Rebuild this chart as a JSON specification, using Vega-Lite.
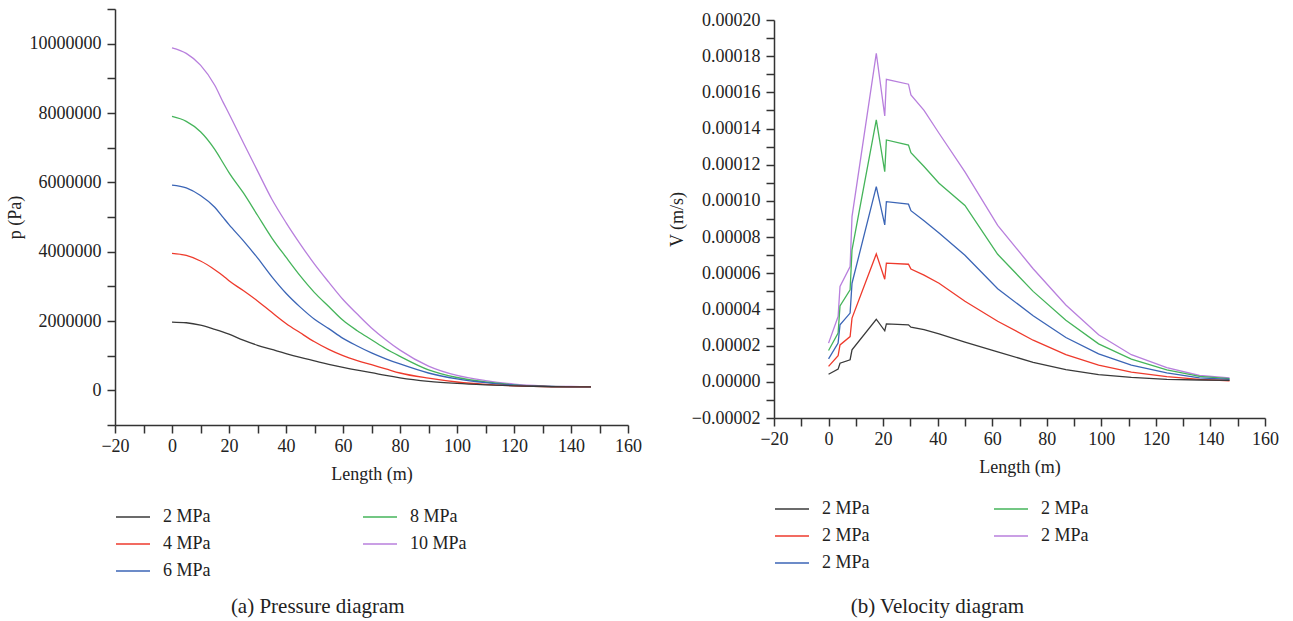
{
  "$schema": "https://vega.github.io/schema/vega-lite/v6.json",
  "background": "white",
  "padding": {"left": 6, "top": 8, "right": 5, "bottom": 5},
  "config": {
    "font": "Liberation Serif",
    "view": {"stroke": null},
    "axis": {
      "labelFont": "Liberation Serif", "titleFont": "Liberation Serif",
      "labelFontSize": 18, "titleFontSize": 18, "titleFontWeight": "normal",
      "labelColor": "#222222", "titleColor": "#222222",
      "domainColor": "#333333", "tickColor": "#333333",
      "domainWidth": 1.5, "tickWidth": 1.5, "tickSize": 8,
      "grid": false, "labelOverlap": false, "labelFlush": false
    },
    "legend": {
      "orient": "bottom", "columns": 2, "symbolType": "stroke",
      "symbolSize": 1156, "symbolStrokeWidth": 1.6,
      "labelFont": "Liberation Serif", "labelFontSize": 18, "labelColor": "#222222",
      "labelOffset": 12, "rowPadding": -7
    },
    "title": {"font": "Liberation Serif", "fontSize": 21, "fontWeight": "normal", "color": "#222222"}
  },
  "datasets": {
    "pressure": [
      {"length": 0, "p": 9880000, "series": "10 MPa"}, {"length": 5, "p": 9720000, "series": "10 MPa"}, {"length": 10, "p": 9380000, "series": "10 MPa"}, {"length": 15, "p": 8800000, "series": "10 MPa"}, {"length": 18, "p": 8300000, "series": "10 MPa"}, {"length": 20, "p": 7980000, "series": "10 MPa"}, {"length": 25, "p": 7150000, "series": "10 MPa"}, {"length": 30, "p": 6330000, "series": "10 MPa"}, {"length": 35, "p": 5520000, "series": "10 MPa"}, {"length": 40, "p": 4840000, "series": "10 MPa"}, {"length": 45, "p": 4220000, "series": "10 MPa"}, {"length": 50, "p": 3640000, "series": "10 MPa"}, {"length": 55, "p": 3120000, "series": "10 MPa"}, {"length": 60, "p": 2620000, "series": "10 MPa"}, {"length": 65, "p": 2200000, "series": "10 MPa"}, {"length": 70, "p": 1800000, "series": "10 MPa"}, {"length": 75, "p": 1460000, "series": "10 MPa"}, {"length": 80, "p": 1160000, "series": "10 MPa"}, {"length": 90, "p": 700000, "series": "10 MPa"}, {"length": 100, "p": 430000, "series": "10 MPa"}, {"length": 110, "p": 280000, "series": "10 MPa"}, {"length": 120, "p": 180000, "series": "10 MPa"}, {"length": 130, "p": 130000, "series": "10 MPa"}, {"length": 140, "p": 110000, "series": "10 MPa"}, {"length": 147, "p": 100000, "series": "10 MPa"},
      {"length": 0, "p": 7900000, "series": "8 MPa"}, {"length": 5, "p": 7760000, "series": "8 MPa"}, {"length": 10, "p": 7460000, "series": "8 MPa"}, {"length": 15, "p": 6950000, "series": "8 MPa"}, {"length": 18, "p": 6550000, "series": "8 MPa"}, {"length": 20, "p": 6280000, "series": "8 MPa"}, {"length": 25, "p": 5700000, "series": "8 MPa"}, {"length": 30, "p": 5050000, "series": "8 MPa"}, {"length": 35, "p": 4400000, "series": "8 MPa"}, {"length": 40, "p": 3840000, "series": "8 MPa"}, {"length": 45, "p": 3300000, "series": "8 MPa"}, {"length": 50, "p": 2820000, "series": "8 MPa"}, {"length": 55, "p": 2420000, "series": "8 MPa"}, {"length": 60, "p": 2020000, "series": "8 MPa"}, {"length": 65, "p": 1720000, "series": "8 MPa"}, {"length": 70, "p": 1460000, "series": "8 MPa"}, {"length": 75, "p": 1200000, "series": "8 MPa"}, {"length": 80, "p": 980000, "series": "8 MPa"}, {"length": 90, "p": 590000, "series": "8 MPa"}, {"length": 100, "p": 370000, "series": "8 MPa"}, {"length": 110, "p": 240000, "series": "8 MPa"}, {"length": 120, "p": 160000, "series": "8 MPa"}, {"length": 130, "p": 120000, "series": "8 MPa"}, {"length": 140, "p": 105000, "series": "8 MPa"}, {"length": 147, "p": 100000, "series": "8 MPa"},
      {"length": 0, "p": 5920000, "series": "6 MPa"}, {"length": 5, "p": 5840000, "series": "6 MPa"}, {"length": 10, "p": 5620000, "series": "6 MPa"}, {"length": 15, "p": 5280000, "series": "6 MPa"}, {"length": 18, "p": 4980000, "series": "6 MPa"}, {"length": 20, "p": 4780000, "series": "6 MPa"}, {"length": 25, "p": 4320000, "series": "6 MPa"}, {"length": 30, "p": 3820000, "series": "6 MPa"}, {"length": 35, "p": 3280000, "series": "6 MPa"}, {"length": 40, "p": 2800000, "series": "6 MPa"}, {"length": 45, "p": 2400000, "series": "6 MPa"}, {"length": 50, "p": 2050000, "series": "6 MPa"}, {"length": 55, "p": 1780000, "series": "6 MPa"}, {"length": 60, "p": 1500000, "series": "6 MPa"}, {"length": 65, "p": 1280000, "series": "6 MPa"}, {"length": 70, "p": 1080000, "series": "6 MPa"}, {"length": 75, "p": 910000, "series": "6 MPa"}, {"length": 80, "p": 760000, "series": "6 MPa"}, {"length": 90, "p": 500000, "series": "6 MPa"}, {"length": 100, "p": 330000, "series": "6 MPa"}, {"length": 110, "p": 220000, "series": "6 MPa"}, {"length": 120, "p": 150000, "series": "6 MPa"}, {"length": 130, "p": 120000, "series": "6 MPa"}, {"length": 140, "p": 100000, "series": "6 MPa"}, {"length": 147, "p": 100000, "series": "6 MPa"},
      {"length": 0, "p": 3950000, "series": "4 MPa"}, {"length": 5, "p": 3890000, "series": "4 MPa"}, {"length": 10, "p": 3730000, "series": "4 MPa"}, {"length": 15, "p": 3480000, "series": "4 MPa"}, {"length": 18, "p": 3300000, "series": "4 MPa"}, {"length": 20, "p": 3160000, "series": "4 MPa"}, {"length": 25, "p": 2880000, "series": "4 MPa"}, {"length": 30, "p": 2580000, "series": "4 MPa"}, {"length": 35, "p": 2250000, "series": "4 MPa"}, {"length": 40, "p": 1930000, "series": "4 MPa"}, {"length": 45, "p": 1660000, "series": "4 MPa"}, {"length": 50, "p": 1400000, "series": "4 MPa"}, {"length": 55, "p": 1180000, "series": "4 MPa"}, {"length": 60, "p": 1000000, "series": "4 MPa"}, {"length": 65, "p": 860000, "series": "4 MPa"}, {"length": 70, "p": 740000, "series": "4 MPa"}, {"length": 75, "p": 620000, "series": "4 MPa"}, {"length": 80, "p": 500000, "series": "4 MPa"}, {"length": 90, "p": 350000, "series": "4 MPa"}, {"length": 100, "p": 240000, "series": "4 MPa"}, {"length": 110, "p": 170000, "series": "4 MPa"}, {"length": 120, "p": 130000, "series": "4 MPa"}, {"length": 130, "p": 110000, "series": "4 MPa"}, {"length": 140, "p": 100000, "series": "4 MPa"}, {"length": 147, "p": 100000, "series": "4 MPa"},
      {"length": 0, "p": 1970000, "series": "2 MPa"}, {"length": 5, "p": 1950000, "series": "2 MPa"}, {"length": 10, "p": 1880000, "series": "2 MPa"}, {"length": 15, "p": 1760000, "series": "2 MPa"}, {"length": 18, "p": 1680000, "series": "2 MPa"}, {"length": 20, "p": 1620000, "series": "2 MPa"}, {"length": 25, "p": 1450000, "series": "2 MPa"}, {"length": 30, "p": 1300000, "series": "2 MPa"}, {"length": 35, "p": 1180000, "series": "2 MPa"}, {"length": 40, "p": 1060000, "series": "2 MPa"}, {"length": 45, "p": 950000, "series": "2 MPa"}, {"length": 50, "p": 850000, "series": "2 MPa"}, {"length": 55, "p": 750000, "series": "2 MPa"}, {"length": 60, "p": 660000, "series": "2 MPa"}, {"length": 65, "p": 580000, "series": "2 MPa"}, {"length": 70, "p": 510000, "series": "2 MPa"}, {"length": 75, "p": 430000, "series": "2 MPa"}, {"length": 80, "p": 360000, "series": "2 MPa"}, {"length": 90, "p": 260000, "series": "2 MPa"}, {"length": 100, "p": 200000, "series": "2 MPa"}, {"length": 110, "p": 160000, "series": "2 MPa"}, {"length": 120, "p": 130000, "series": "2 MPa"}, {"length": 130, "p": 110000, "series": "2 MPa"}, {"length": 140, "p": 100000, "series": "2 MPa"}, {"length": 147, "p": 100000, "series": "2 MPa"}
    ],
    "velocity": [
      {"length": 0, "v": 0.0000214, "series": "10 MPa"}, {"length": 3.5, "v": 0.0000361, "series": "10 MPa"}, {"length": 4.2, "v": 0.0000527, "series": "10 MPa"}, {"length": 7.9, "v": 0.0000637, "series": "10 MPa"}, {"length": 8.6, "v": 0.0000913, "series": "10 MPa"}, {"length": 17.5, "v": 0.0001816, "series": "10 MPa"}, {"length": 20.6, "v": 0.000147, "series": "10 MPa"}, {"length": 21.2, "v": 0.0001672, "series": "10 MPa"}, {"length": 29.3, "v": 0.0001645, "series": "10 MPa"}, {"length": 30.2, "v": 0.0001586, "series": "10 MPa"}, {"length": 35, "v": 0.00015, "series": "10 MPa"}, {"length": 40.5, "v": 0.0001374, "series": "10 MPa"}, {"length": 50, "v": 0.000116, "series": "10 MPa"}, {"length": 62, "v": 0.0000865, "series": "10 MPa"}, {"length": 75, "v": 0.0000625, "series": "10 MPa"}, {"length": 87, "v": 0.0000425, "series": "10 MPa"}, {"length": 99, "v": 0.000026, "series": "10 MPa"}, {"length": 111, "v": 0.000015, "series": "10 MPa"}, {"length": 124, "v": 0.0000078, "series": "10 MPa"}, {"length": 136, "v": 0.0000035, "series": "10 MPa"}, {"length": 147, "v": 0.0000022, "series": "10 MPa"},
      {"length": 0, "v": 0.0000173, "series": "8 MPa"}, {"length": 3.5, "v": 0.0000269, "series": "8 MPa"}, {"length": 4.2, "v": 0.000042, "series": "8 MPa"}, {"length": 7.9, "v": 0.0000508, "series": "8 MPa"}, {"length": 8.6, "v": 0.0000729, "series": "8 MPa"}, {"length": 17.5, "v": 0.0001448, "series": "8 MPa"}, {"length": 20.6, "v": 0.0001162, "series": "8 MPa"}, {"length": 21.2, "v": 0.0001337, "series": "8 MPa"}, {"length": 29.3, "v": 0.0001309, "series": "8 MPa"}, {"length": 30.2, "v": 0.0001267, "series": "8 MPa"}, {"length": 35, "v": 0.000119, "series": "8 MPa"}, {"length": 40.5, "v": 0.0001098, "series": "8 MPa"}, {"length": 50, "v": 0.0000975, "series": "8 MPa"}, {"length": 62, "v": 0.0000705, "series": "8 MPa"}, {"length": 75, "v": 0.00005, "series": "8 MPa"}, {"length": 87, "v": 0.000034, "series": "8 MPa"}, {"length": 99, "v": 0.000021, "series": "8 MPa"}, {"length": 111, "v": 0.0000125, "series": "8 MPa"}, {"length": 124, "v": 0.0000066, "series": "8 MPa"}, {"length": 136, "v": 0.000003, "series": "8 MPa"}, {"length": 147, "v": 0.0000018, "series": "8 MPa"},
      {"length": 0, "v": 0.0000127, "series": "6 MPa"}, {"length": 3.5, "v": 0.0000214, "series": "6 MPa"}, {"length": 4.2, "v": 0.0000315, "series": "6 MPa"}, {"length": 7.9, "v": 0.000038, "series": "6 MPa"}, {"length": 8.6, "v": 0.0000545, "series": "6 MPa"}, {"length": 17.5, "v": 0.0001079, "series": "6 MPa"}, {"length": 20.6, "v": 0.0000867, "series": "6 MPa"}, {"length": 21.2, "v": 0.0000996, "series": "6 MPa"}, {"length": 29.3, "v": 0.0000982, "series": "6 MPa"}, {"length": 30.2, "v": 0.0000946, "series": "6 MPa"}, {"length": 35, "v": 0.000089, "series": "6 MPa"}, {"length": 40.5, "v": 0.0000822, "series": "6 MPa"}, {"length": 50, "v": 0.00007, "series": "6 MPa"}, {"length": 62, "v": 0.0000515, "series": "6 MPa"}, {"length": 75, "v": 0.0000365, "series": "6 MPa"}, {"length": 87, "v": 0.0000245, "series": "6 MPa"}, {"length": 99, "v": 0.0000155, "series": "6 MPa"}, {"length": 111, "v": 0.0000092, "series": "6 MPa"}, {"length": 124, "v": 0.000005, "series": "6 MPa"}, {"length": 136, "v": 0.0000022, "series": "6 MPa"}, {"length": 147, "v": 0.0000013, "series": "6 MPa"},
      {"length": 0, "v": 0.0000085, "series": "4 MPa"}, {"length": 3.5, "v": 0.0000144, "series": "4 MPa"}, {"length": 4.2, "v": 0.0000204, "series": "4 MPa"}, {"length": 7.9, "v": 0.000025, "series": "4 MPa"}, {"length": 8.6, "v": 0.0000352, "series": "4 MPa"}, {"length": 17.5, "v": 0.0000707, "series": "4 MPa"}, {"length": 20.6, "v": 0.0000567, "series": "4 MPa"}, {"length": 21.2, "v": 0.0000656, "series": "4 MPa"}, {"length": 29.3, "v": 0.000065, "series": "4 MPa"}, {"length": 30.2, "v": 0.0000623, "series": "4 MPa"}, {"length": 35, "v": 0.000059, "series": "4 MPa"}, {"length": 40.5, "v": 0.0000545, "series": "4 MPa"}, {"length": 50, "v": 0.0000445, "series": "4 MPa"}, {"length": 62, "v": 0.0000335, "series": "4 MPa"}, {"length": 75, "v": 0.000023, "series": "4 MPa"}, {"length": 87, "v": 0.000015, "series": "4 MPa"}, {"length": 99, "v": 0.0000092, "series": "4 MPa"}, {"length": 111, "v": 0.0000053, "series": "4 MPa"}, {"length": 124, "v": 0.0000029, "series": "4 MPa"}, {"length": 136, "v": 0.0000014, "series": "4 MPa"}, {"length": 147, "v": 0.0000006, "series": "4 MPa"},
      {"length": 0, "v": 0.0000042, "series": "2 MPa"}, {"length": 3.5, "v": 0.000007, "series": "2 MPa"}, {"length": 4.2, "v": 0.0000103, "series": "2 MPa"}, {"length": 7.9, "v": 0.0000122, "series": "2 MPa"}, {"length": 8.6, "v": 0.0000177, "series": "2 MPa"}, {"length": 17.5, "v": 0.0000346, "series": "2 MPa"}, {"length": 20.6, "v": 0.0000282, "series": "2 MPa"}, {"length": 21.2, "v": 0.000032, "series": "2 MPa"}, {"length": 29.3, "v": 0.0000315, "series": "2 MPa"}, {"length": 30.2, "v": 0.0000302, "series": "2 MPa"}, {"length": 35, "v": 0.0000288, "series": "2 MPa"}, {"length": 40.5, "v": 0.0000265, "series": "2 MPa"}, {"length": 50, "v": 0.000022, "series": "2 MPa"}, {"length": 62, "v": 0.0000165, "series": "2 MPa"}, {"length": 75, "v": 0.0000108, "series": "2 MPa"}, {"length": 87, "v": 0.0000067, "series": "2 MPa"}, {"length": 99, "v": 0.000004, "series": "2 MPa"}, {"length": 111, "v": 0.0000024, "series": "2 MPa"}, {"length": 124, "v": 0.0000014, "series": "2 MPa"}, {"length": 136, "v": 0.000001, "series": "2 MPa"}, {"length": 147, "v": 0.0000008, "series": "2 MPa"}
    ]
  },
  "resolve": {"scale": {"color": "independent"}},
  "spacing": 26,
  "hconcat": [
    {
      "width": 513,
      "height": 416,
      "title": {"text": "(a) Pressure diagram", "orient": "bottom", "anchor": "middle", "frame": "bounds", "offset": 16, "dx": -6},
      "data": {"name": "pressure"},
      "mark": {"type": "line", "strokeWidth": 1.3, "interpolate": "monotone"},
      "encoding": {
        "x": {
          "field": "length", "type": "quantitative",
          "scale": {"domain": [-20, 160], "nice": false, "zero": false},
          "axis": {
            "title": "Length (m)", "titlePadding": 10, "labelPadding": 4,
            "values": [-20, -10, 0, 10, 20, 30, 40, 50, 60, 70, 80, 90, 100, 110, 120, 130, 140, 150, 160],
            "labelExpr": "datum.value % 20 === 0 ? datum.label : ''",
            "encode": {"ticks": {"update": {"y2": {"signal": "datum.value % 20 === 0 ? 8 : 4"}}}}
          }
        },
        "y": {
          "field": "p", "type": "quantitative",
          "scale": {"domain": [-1000000, 11000000], "nice": false, "zero": false},
          "axis": {
            "title": "p (Pa)", "titlePadding": 5, "labelPadding": 6, "format": "d",
            "values": [-1000000, 0, 1000000, 2000000, 3000000, 4000000, 5000000, 6000000, 7000000, 8000000, 9000000, 10000000, 11000000],
            "labelExpr": "datum.value % 2000000 === 0 ? datum.label : ''",
            "labelFontSize": {"condition": {"test": "datum.value % 2000000 !== 0", "value": 0}, "value": 18},
            "encode": {"ticks": {"update": {"x2": {"signal": "datum.value % 2000000 === 0 ? -8 : -4"}}}}
          }
        },
        "color": {
          "field": "series", "type": "nominal",
          "scale": {"domain": ["2 MPa", "8 MPa", "4 MPa", "10 MPa", "6 MPa"], "range": ["#3a3a3a", "#45b45a", "#ee3a2c", "#b87fdd", "#3b65b6"]},
          "legend": {"title": null, "columnPadding": 148, "offset": 16}
        }
      }
    },
    {
      "resolve": {"legend": {"color": "independent"}},
      "spacing": 0,
      "vconcat": [
        {
          "width": 491,
          "height": 2,
          "data": {"values": [{}]},
          "mark": {"type": "rule", "opacity": 0},
          "encoding": {}
        },
        {
          "width": 491,
          "height": 398,
          "title": {"text": "(b) Velocity diagram", "orient": "bottom", "anchor": "middle", "frame": "bounds", "offset": 24, "dx": -36},
          "data": {"name": "velocity"},
          "mark": {"type": "line", "strokeWidth": 1.3},
          "encoding": {
            "x": {
              "field": "length", "type": "quantitative",
              "scale": {"domain": [-20, 160], "nice": false, "zero": false},
              "axis": {
                "title": "Length (m)", "titlePadding": 10, "labelPadding": 4,
                "values": [-20, -10, 0, 10, 20, 30, 40, 50, 60, 70, 80, 90, 100, 110, 120, 130, 140, 150, 160],
                "labelExpr": "datum.value % 20 === 0 ? datum.label : ''",
                "encode": {"ticks": {"update": {"y2": {"signal": "datum.value % 20 === 0 ? 8 : 4"}}}}
              }
            },
            "y": {
              "field": "v", "type": "quantitative",
              "scale": {"domain": [-0.00002, 0.0002], "nice": false, "zero": false},
              "axis": {
                "title": "V (m/s)", "titlePadding": 5, "labelPadding": 6, "format": ".5f",
                "values": [-0.00002, -0.00001, 0, 0.00001, 0.00002, 0.00003, 0.00004, 0.00005, 0.00006, 0.00007, 0.00008, 0.00009, 0.0001, 0.00011, 0.00012, 0.00013, 0.00014, 0.00015, 0.00016, 0.00017, 0.00018, 0.00019, 0.0002],
                "labelExpr": "round(datum.value * 100000) % 2 === 0 ? datum.label : ''",
                "encode": {"ticks": {"update": {"x2": {"signal": "round(datum.value * 100000) % 2 === 0 ? -8 : -4"}}}}
              }
            },
            "color": {
              "field": "series", "type": "nominal",
              "scale": {"domain": ["2 MPa", "8 MPa", "4 MPa", "10 MPa", "6 MPa"], "range": ["#3a3a3a", "#45b45a", "#ee3a2c", "#b87fdd", "#3b65b6"]},
              "legend": {"title": null, "columnPadding": 120, "offset": 15, "labelExpr": "'2 MPa'"}
            }
          }
        }
      ]
    }
  ]
}
